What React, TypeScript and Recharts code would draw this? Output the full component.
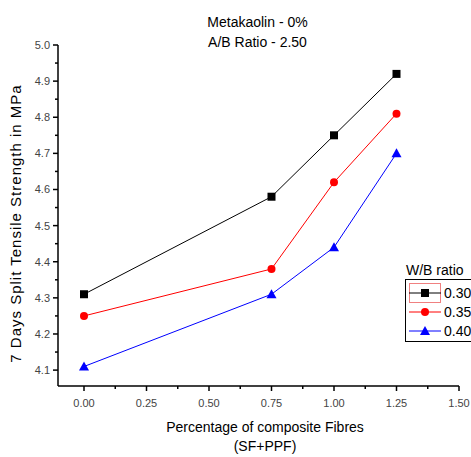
import React from 'react'
import { LineChart, Line, XAxis, YAxis } from 'recharts'

const fibre = [0, 0.75, 1.0, 1.25]
const wb030 = [4.31, 4.58, 4.75, 4.92]
const wb035 = [4.25, 4.38, 4.62, 4.81]
const wb040 = [4.11, 4.31, 4.44, 4.7]
const seriesNames = ['0.30', '0.35', '0.40']
const xTicks = [0, 0.125, 0.25, 0.375, 0.5, 0.625, 0.75, 0.875, 1, 1.125, 1.25, 1.375, 1.5]
const yTicks = [4.1, 4.15, 4.2, 4.25, 4.3, 4.35, 4.4, 4.45, 4.5, 4.55, 4.6, 4.65, 4.7, 4.75, 4.8, 4.85, 4.9, 4.95, 5.0]

const data = fibre.map((x, i) => ({ x, a: wb030[i], b: wb035[i], c: wb040[i] }))

const font = 'Arial, "Liberation Sans", sans-serif'

const XTick = ({ x, y, payload }: any) => {
  const v = payload.value
  const major = Math.round(v * 1000) % 250 === 0
  return (
    <g>
      <line x1={x} x2={x} y1={y} y2={y + (major ? 5 : 3)} stroke="#000" strokeWidth={1.5} />
      {major && (
        <text x={x} y={y + 21} textAnchor="middle" fontSize={11} fill="#444" fontFamily={font}>
          {v.toFixed(2)}
        </text>
      )}
    </g>
  )
}

const YTick = ({ x, y, payload }: any) => {
  const v = payload.value
  const major = Math.round(v * 100) % 10 === 0
  return (
    <g>
      <line x1={x} x2={x - (major ? 5 : 3)} y1={y} y2={y} stroke="#000" strokeWidth={1.5} />
      {major && (
        <text x={x - 8} y={y + 4} textAnchor="end" fontSize={11} fill="#444" fontFamily={font}>
          {v.toFixed(1)}
        </text>
      )}
    </g>
  )
}

const Square = ({ cx, cy }: any) => <rect x={cx - 4} y={cy - 4} width={8} height={8} fill="#000" />
const Circle = ({ cx, cy }: any) => <circle cx={cx} cy={cy} r={4} fill="#f00" />
const Triangle = ({ cx, cy }: any) => (
  <polygon points={`${cx},${cy - 5} ${cx + 5},${cy + 4} ${cx - 5},${cy + 4}`} fill="#00f" />
)

const markers = [
  { color: '#000', shape: (x: number, y: number) => <rect x={x - 4} y={y - 4} width={8} height={8} fill="#000" /> },
  { color: '#f00', shape: (x: number, y: number) => <circle cx={x} cy={y} r={4} fill="#f00" /> },
  { color: '#00f', shape: (x: number, y: number) => <polygon points={`${x},${y - 5} ${x + 5},${y + 4} ${x - 5},${y + 4}`} fill="#00f" /> }
]

// legend drawn as an overlay so it doesn't steal space from the plot
const LegendBox = () => (
  <svg width={90} height={90} style={{ position: 'absolute', left: 405, top: 259, overflow: 'visible' }}>
    <text x={1} y={16} fontSize={14} fontFamily={font} fill="#000">W/B ratio</text>
    <rect x={0.5} y={20.5} width={80} height={62} fill="#fff" stroke="#000" strokeWidth={1} />
    <rect x={4.5} y={24.5} width={31} height={19} fill="none" stroke="#f08080" strokeWidth={1} />
    {seriesNames.map((name, i) => {
      const cy = 34 + i * 19
      return (
        <g key={name}>
          <line x1={4} x2={36} y1={cy} y2={cy} stroke={markers[i].color} strokeWidth={1} />
          {markers[i].shape(20, cy)}
          <text x={39} y={cy + 5} fontSize={14} fontFamily={font} fill="#000">{name}</text>
        </g>
      )
    })}
  </svg>
)

export default function App() {
  return (
    <div style={{ position: 'absolute', left: 0, top: 0, width: 471, height: 457, overflow: 'hidden', background: '#fff' }}>
      <div style={{ position: 'absolute', left: 0, top: 12, width: 515, textAlign: 'center', fontFamily: font, fontSize: 14, lineHeight: '20px', color: '#000' }}>
        Metakaolin - 0%<br />A/B Ratio - 2.50
      </div>
      <LineChart width={471} height={457} data={data} margin={{ top: 45, right: 12, left: 8, bottom: 41 }}>
        <XAxis
          dataKey="x"
          type="number"
          domain={[-0.104, 1.5]}
          allowDataOverflow
          ticks={xTicks}
          interval={0}
          tickSize={0}
          tickMargin={0}
          tickLine={false}
          tick={<XTick />}
          height={30}
          axisLine={{ stroke: '#000', strokeWidth: 1.5 }}
        />
        <YAxis
          type="number"
          domain={[4.056, 5.0]}
          allowDataOverflow
          ticks={yTicks}
          interval={0}
          tickSize={0}
          tickMargin={0}
          tickLine={false}
          tick={<YTick />}
          width={50}
          axisLine={{ stroke: '#000', strokeWidth: 1.5 }}
          label={{
            value: '7 Days Split Tensile Strength in MPa',
            angle: -90,
            position: 'insideLeft',
            offset: 8,
            dy: 8,
            style: { textAnchor: 'middle', fontSize: 15, letterSpacing: 1, fontFamily: font, fill: '#000' }
          }}
        />
        <Line dataKey="a" name={seriesNames[0]} stroke="#000" strokeWidth={1} dot={<Square />} activeDot={false} isAnimationActive={false} />
        <Line dataKey="b" name={seriesNames[1]} stroke="#f00" strokeWidth={1} dot={<Circle />} activeDot={false} isAnimationActive={false} />
        <Line dataKey="c" name={seriesNames[2]} stroke="#00f" strokeWidth={1} dot={<Triangle />} activeDot={false} isAnimationActive={false} />
      </LineChart>
      <LegendBox />
      <div style={{ position: 'absolute', left: 0, top: 418, width: 530, textAlign: 'center', fontFamily: font, fontSize: 14, lineHeight: '19px', color: '#000' }}>
        Percentage of composite Fibres<br />(SF+PPF)
      </div>
    </div>
  )
}
